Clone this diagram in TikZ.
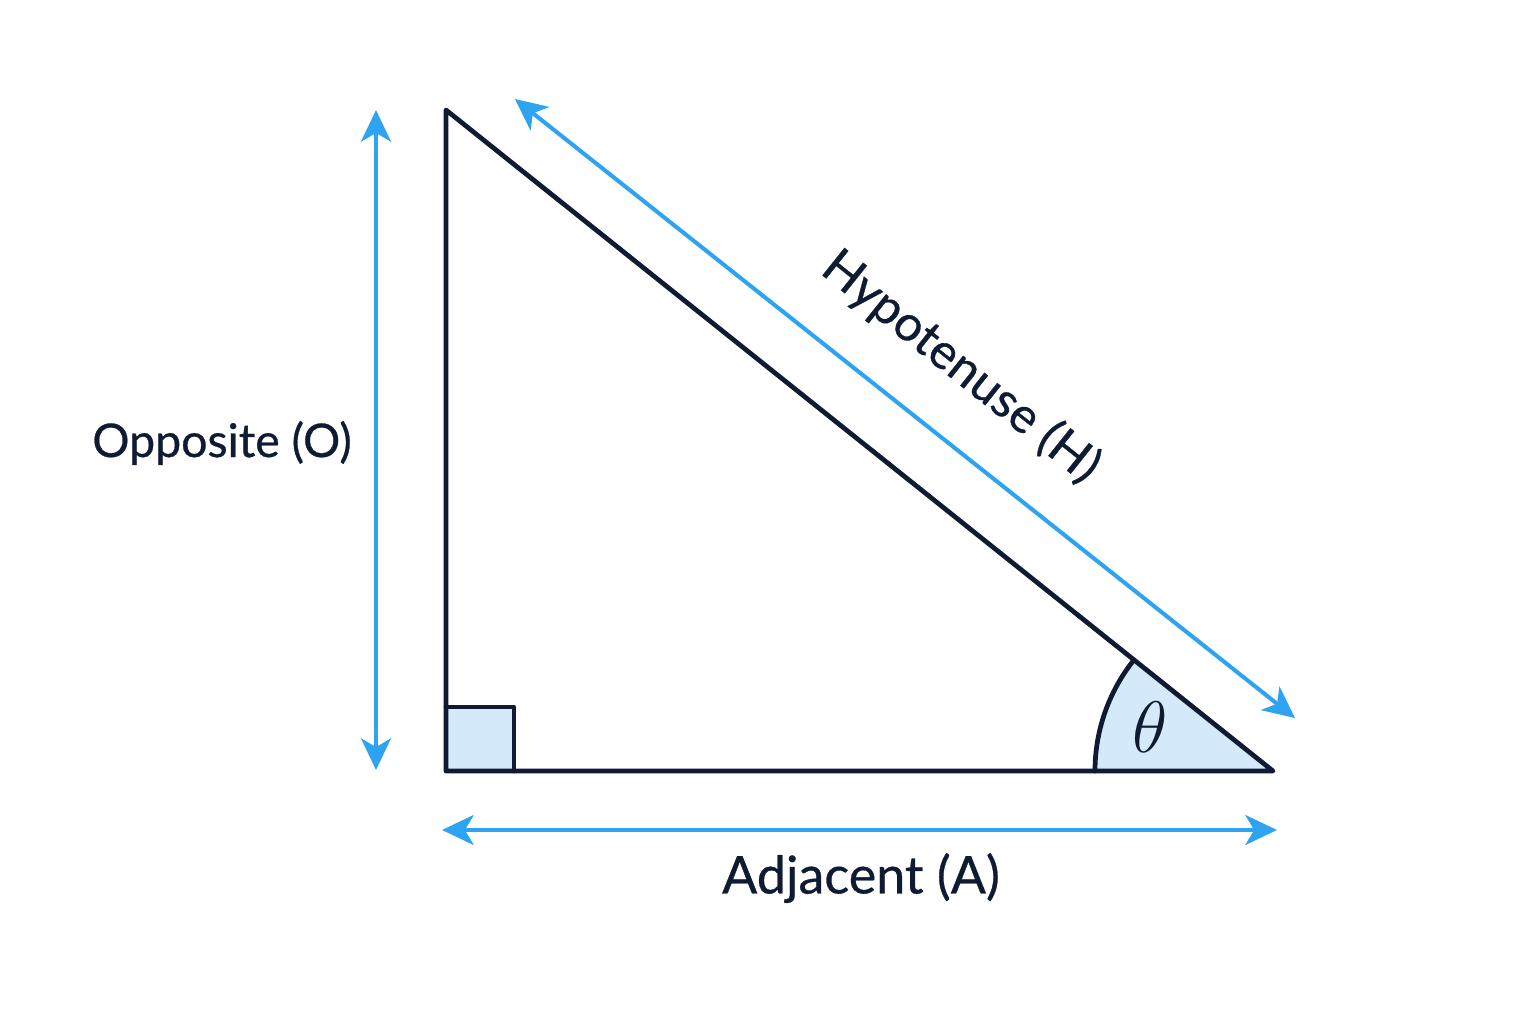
\documentclass[tikz,border=0pt]{standalone}
\usepackage{fontspec}
\setmainfont{Lato}
\newfontfamily\lblfont{Lato}[FakeBold=0.6]
\usetikzlibrary{arrows.meta}
\definecolor{navy}{HTML}{0F1B33}
\definecolor{skyb}{HTML}{2EA3F2}
\definecolor{paleb}{HTML}{D4EAFB}
\tikzset{
  side/.style={draw=navy, line width=1.35pt, line join=round, line cap=round},
  dimarrow/.style={draw=skyb, line width=1.15pt, {Stealth[length=9pt,width=8.5pt,inset=2.5pt]}-{Stealth[length=9pt,width=8.5pt,inset=2.5pt]}},
  lbl/.style={text=navy, font=\lblfont\fontsize{13.2}{16}\selectfont, inner sep=0pt}
}
\begin{document}
\begin{tikzpicture}[x=0.01cm, y=-0.01cm]
\useasboundingbox (0,0) rectangle (1536,1024);
\fill[white] (0,0) rectangle (1536,1024);
\coordinate (T) at (446,110);
\coordinate (C) at (446,771);
\coordinate (R) at (1273,771);
% fills
\fill[paleb] (446,707) rectangle (514,771);
\fill[paleb] (R) -- (1095,771) arc[start angle=180, end angle=218.65, radius=178] -- cycle;
% right angle square and arc
\draw[side] (446,707) -- (514,707) -- (514,771);
\draw[side] (1095,771) arc[start angle=180, end angle=218.65, radius=178];
% triangle
\draw[side] (T) -- (C) -- (R) -- cycle;
% arrows
\coordinate (OA) at (376,110);
\coordinate (OB) at (376,770);
\coordinate (AA) at (442,830);
\coordinate (AB) at (1277,830);
\coordinate (HA) at (515,99);
\coordinate (HB) at (1295,718);
\draw[dimarrow] (OA) -- (OB);
\draw[dimarrow] (AA) -- (AB);
\draw[dimarrow] (HA) -- (HB);
% labels
\node[lbl] (lo) at (222,443) {Opposite (O)};
\node[lbl, font=\lblfont\fontsize{14.8}{17}\selectfont] (la) at (861,878) {Adjacent (A)};
\node[lbl, font=\lblfont\fontsize{14}{17}\selectfont, rotate=-38.6] (lh) at (961,367) {Hypotenuse (H)};
\node[text=navy, font=\fontsize{21}{24}\selectfont, inner sep=0pt] (th) at (1150,727) {$\theta$};
\end{tikzpicture}
\end{document}
